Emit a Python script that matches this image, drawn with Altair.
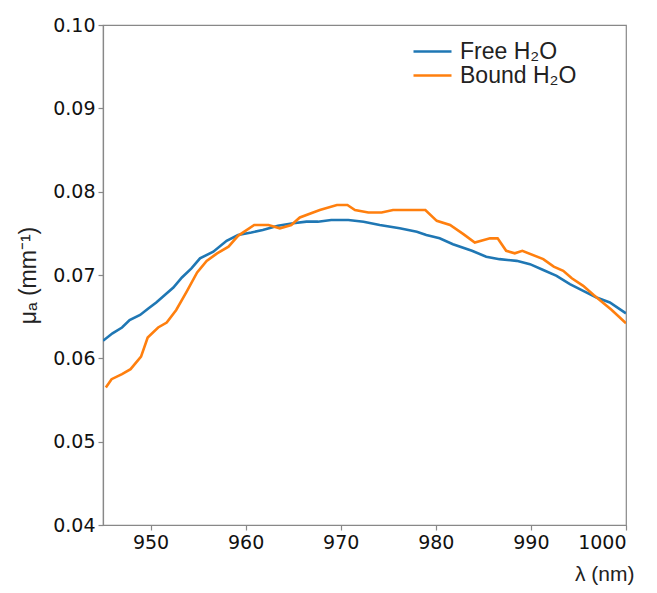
import altair as alt
import pandas as pd

free_wl = [945.0, 946.0, 947.0, 947.8, 948.9, 949.8, 950.6, 951.5, 952.4, 953.3, 954.3, 955.2,
           956.6, 958.0, 959.2, 960.6, 961.8, 963.4, 965.0, 966.4, 967.6, 969.0, 970.8, 972.4,
           974.1, 976.2, 978.0, 979.0, 980.4, 981.8, 983.8, 985.3, 986.7, 988.5, 989.9, 991.3,
           992.7, 994.1, 995.5, 996.9, 998.3, 1000.0]
free_mu = [0.0621, 0.0630, 0.0637, 0.0646, 0.0652, 0.0660, 0.0667, 0.0676, 0.0685, 0.0697, 0.0708, 0.0720,
           0.0728, 0.0741, 0.0748, 0.0751, 0.0754, 0.0759, 0.0762, 0.0764, 0.0764, 0.0766, 0.0766, 0.0764,
           0.0760, 0.0756, 0.0752, 0.0748, 0.0744, 0.0737, 0.0729, 0.0722, 0.0719, 0.0717, 0.0713, 0.0706,
           0.0699, 0.0689, 0.0681, 0.0673, 0.0667, 0.0654]

bound_wl = [945.3, 945.9, 947.0, 947.9, 949.0, 949.7, 950.8, 951.7, 952.7, 953.8, 954.9, 955.9,
            957.0, 958.2, 959.2, 960.9, 962.4, 963.6, 964.8, 965.7, 967.8, 969.6, 970.7, 971.5,
            972.9, 974.3, 975.5, 978.9, 980.1, 981.5, 982.9, 984.1, 985.7, 986.5, 987.4, 988.3,
            989.1, 991.3, 992.4, 993.4, 994.3, 995.5, 996.6, 998.5, 1000.0]
bound_mu = [0.0565, 0.0575, 0.0581, 0.0587, 0.0602, 0.0625, 0.0637, 0.0643, 0.0658, 0.0680, 0.0703, 0.0717,
            0.0726, 0.0734, 0.0747, 0.0760, 0.0760, 0.0756, 0.0760, 0.0769, 0.0778, 0.0784, 0.0784, 0.0778,
            0.0775, 0.0775, 0.0778, 0.0778, 0.0765, 0.0760, 0.0749, 0.0739, 0.0744, 0.0744, 0.0729, 0.0726,
            0.0729, 0.0719, 0.0710, 0.0705, 0.0696, 0.0687, 0.0676, 0.0658, 0.0642]

series = ["Free H\u2082O", "Bound H\u2082O"]
colors = ["#1f77b4", "#ff7f0e"]
x_ticks = [950, 960, 970, 980, 990, 1000]
y_ticks = [0.04, 0.05, 0.06, 0.07, 0.08, 0.09, 0.10]

df = pd.concat([
    pd.DataFrame({"wl": free_wl, "mu": free_mu, "series": series[0], "order": range(len(free_wl))}),
    pd.DataFrame({"wl": bound_wl, "mu": bound_mu, "series": series[1], "order": range(len(bound_wl))}),
])

W, H = 523, 500

chart = alt.Chart(df).mark_line(strokeWidth=2.6, clip=True).encode(
    x=alt.X("wl:Q",
            scale=alt.Scale(domain=[945, 1000], nice=False, zero=False),
            axis=alt.Axis(values=x_ticks, format="d", title="\u03bb (nm)", grid=False,
                          titleAnchor="end", titleAlign="right", titleX=W + 8, titleY=49,
                          titleBaseline="middle")),
    y=alt.Y("mu:Q",
            scale=alt.Scale(domain=[0.04, 0.10], nice=False, zero=False),
            axis=alt.Axis(values=y_ticks, format=".2f", title="\u03bc\u2090 (mm\u207b\u00b9)", grid=False,
                          titleX=-75, titleY=H / 2, titleAngle=270, titleAlign="center",
                          titleBaseline="middle", titleFontSize=23)),
    color=alt.Color("series:N",
                    scale=alt.Scale(domain=series, range=colors),
                    legend=alt.Legend(title=None, orient="none", legendX=318, legendY=15,
                                      symbolType="M-2,0L2,0", symbolSize=361, symbolStrokeWidth=2.6,
                                      labelFont="Liberation Sans", labelFontSize=23, labelColor="#222",
                                      labelOffset=16, rowPadding=-2, symbolOffset=0)),
    order="order:Q",
    detail="series:N",
).properties(
    width=W, height=H,
    autosize=alt.AutoSizeParams(type="none"),
    padding={"left": 95, "top": 17, "right": 20, "bottom": 60},
    background="white",
).configure_view(
    stroke="#888888", strokeWidth=1.2
).configure_axis(
    domainColor="#888888", domainWidth=1.2, tickColor="#888888", tickWidth=1.2, tickSize=5,
    labelFont="DejaVu Sans", labelFontSize=19, labelColor="#111", labelPadding=3,
    titleFont="Liberation Sans", titleFontSize=21, titleFontWeight="normal", titleColor="#222",
)

chart.save("out.html", embed_options={"renderer": "svg", "actions": False})
